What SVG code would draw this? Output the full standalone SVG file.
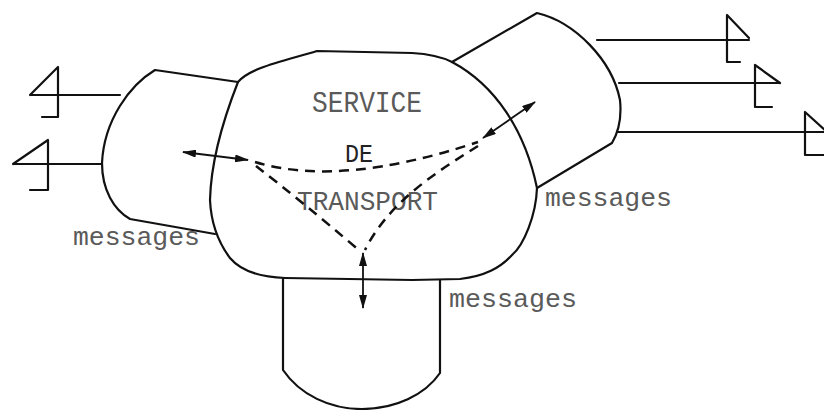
<svg xmlns="http://www.w3.org/2000/svg" width="824" height="410" viewBox="0 0 824 410">
<defs>
<style>
.ln{fill:none;stroke:#111;stroke-width:2.2;stroke-linejoin:round;stroke-linecap:round}
.ds{fill:none;stroke:#111;stroke-width:2.5;stroke-dasharray:10 7}
.ar{fill:none;stroke:#111;stroke-width:1.8}
.tx{font-family:"Liberation Mono","DejaVu Sans Mono",monospace;fill:#5a5a5a}
.dk{fill:#222}
</style>
<marker id="ah" viewBox="0 0 14 8" refX="13" refY="4" markerWidth="14" markerHeight="8" markerUnits="userSpaceOnUse" orient="auto-start-reverse">
<path d="M0,0 L14,4 L0,8 Z" fill="#111"/>
</marker>
</defs>
<rect width="824" height="410" fill="#fff"/>
<g id="left-station">
<path class="ln" d="M238,82 L155,70 C130,85 104,120 102,163 C102,190 114,210 130,219 L215,234"/>
<path class="ln" d="M30,95 L120,95 M58,67 L58,117 M58,67 L30,95 M58,117 L42,117"/>
<path class="ln" d="M13,164 L102,164 M48,140 L48,190 M48,140 L13,164 M48,190 L30,190"/>
</g>
<g id="right-station">
<path class="ln" d="M452,62 L537,13 C575,22 612,60 620,100 C622,120 618,133 612,143 L537,188"/>
<path class="ln" d="M597,40 L749,40 M727,15 L727,62 M727,15 L749,38 M727,62 L740,62"/>
<path class="ln" d="M619,83 L780,83 M755,65 L755,107 M755,65 L780,83 M755,107 L772,107"/>
<path class="ln" d="M618,132 L824,132 M805,112 L805,155 M805,112 L826,131 M805,155 L824,155"/>
</g>
<g id="bottom-station">
<path class="ln" d="M283,279 L283,370 C300,395 330,409 362,409 C395,409 425,395 440,373 L440,280"/>
</g>
<g id="transport-service">
<path class="ln" d="M238,82 C250,68 280,62 317,51 L412,53 C430,54 442,57 452,62 C495,85 525,130 537,188 C536,215 524,245 512,255 C500,268 485,276 460,279 L412,280 L285,278 C258,277 240,270 230,258 C218,242 211,222 210,200 C211,160 225,115 238,82 Z"/>
<text class="tx" x="312" y="112" font-size="29" textLength="110" lengthAdjust="spacingAndGlyphs">SERVICE</text>
<text class="tx dk" x="345" y="162" font-size="25" textLength="28" lengthAdjust="spacingAndGlyphs">DE</text>
<text class="tx" x="297" y="210" font-size="28" textLength="141" lengthAdjust="spacingAndGlyphs">TRANSPORT</text>
</g>
<g id="connectors">
<path class="ds" d="M255,162 Q340,188 478,142"/>
<path class="ds" d="M478,146 C440,170 390,200 365,250"/>
<path class="ds" d="M256,166 Q300,200 360,251"/>
<line class="ar" x1="183" y1="152" x2="248" y2="160" marker-start="url(#ah)" marker-end="url(#ah)"/>
<line class="ar" x1="483" y1="138" x2="535" y2="102" marker-start="url(#ah)" marker-end="url(#ah)"/>
<line class="ar" x1="363" y1="253" x2="363" y2="308" marker-start="url(#ah)" marker-end="url(#ah)"/>
</g>
<g id="labels">
<text class="tx" x="73" y="245" font-size="26" textLength="127" lengthAdjust="spacingAndGlyphs">messages</text>
<text class="tx" x="545" y="206" font-size="26" textLength="127" lengthAdjust="spacingAndGlyphs">messages</text>
<text class="tx" x="449" y="307" font-size="26" textLength="128" lengthAdjust="spacingAndGlyphs">messages</text>
</g>
</svg>
